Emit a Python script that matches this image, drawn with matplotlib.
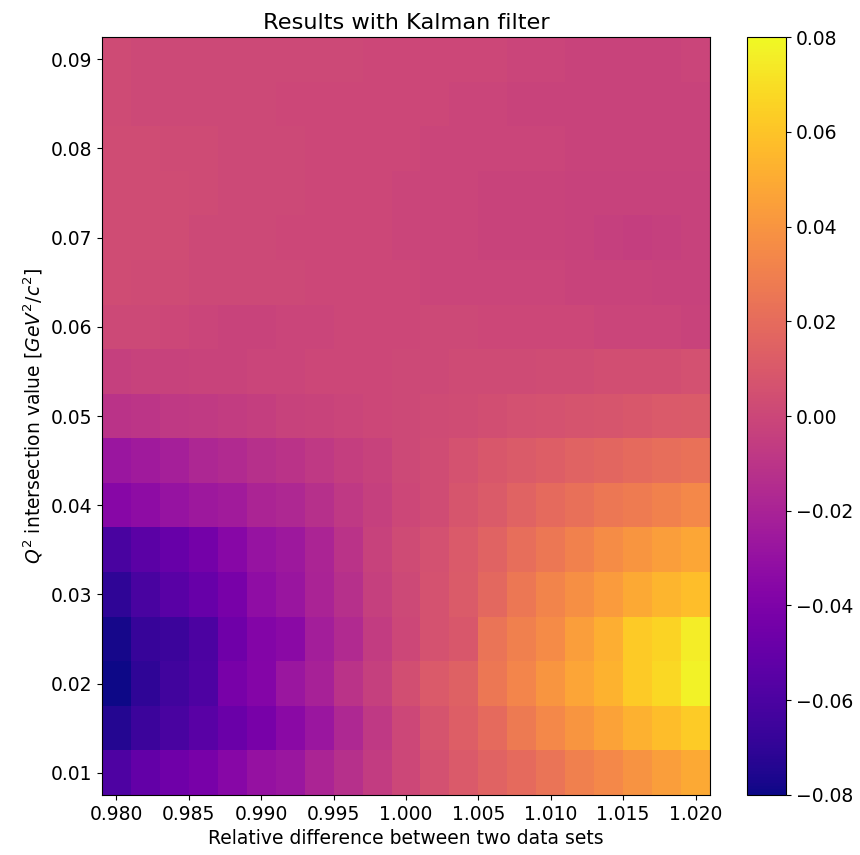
import numpy as np
import matplotlib
matplotlib.use("Agg")
from matplotlib import pyplot as plt

# relative difference (column centres) and Q^2 (row centres)
rel_diff = [0.980, 0.982, 0.984, 0.986, 0.988, 0.990, 0.992, 0.994, 0.996, 0.998,
            1.000, 1.002, 1.004, 1.006, 1.008, 1.010, 1.012, 1.014, 1.016, 1.018, 1.020]
q2_values = [0.010, 0.015, 0.020, 0.025, 0.030, 0.035, 0.040, 0.045, 0.050,
             0.055, 0.060, 0.065, 0.070, 0.075, 0.080, 0.085, 0.090]

# one list per Q^2 row
row_010 = [-0.059, -0.051, -0.046, -0.042, -0.036, -0.030, -0.027, -0.019, -0.013, -0.006,
           0.000, 0.005, 0.010, 0.015, 0.019, 0.024, 0.030, 0.034, 0.039, 0.044, 0.049]
row_015 = [-0.074, -0.066, -0.061, -0.055, -0.048, -0.042, -0.035, -0.027, -0.017, -0.008,
           0.000, 0.007, 0.013, 0.019, 0.027, 0.034, 0.040, 0.046, 0.052, 0.057, 0.063]
row_020 = [-0.080, -0.070, -0.064, -0.059, -0.042, -0.037, -0.027, -0.021, -0.011, -0.004,
           0.004, 0.010, 0.014, 0.026, 0.033, 0.040, 0.047, 0.053, 0.062, 0.068, 0.077]
row_025 = [-0.078, -0.068, -0.066, -0.060, -0.046, -0.038, -0.035, -0.023, -0.016, -0.006,
           0.000, 0.006, 0.009, 0.024, 0.030, 0.035, 0.044, 0.051, 0.062, 0.066, 0.075]
row_030 = [-0.070, -0.061, -0.055, -0.049, -0.042, -0.032, -0.028, -0.020, -0.013, -0.004,
           0.001, 0.006, 0.011, 0.018, 0.026, 0.032, 0.037, 0.043, 0.049, 0.054, 0.058]
row_035 = [-0.061, -0.054, -0.049, -0.044, -0.036, -0.029, -0.026, -0.019, -0.011, -0.003,
           0.002, 0.005, 0.010, 0.015, 0.021, 0.026, 0.031, 0.036, 0.040, 0.044, 0.048]
row_040 = [-0.036, -0.033, -0.029, -0.026, -0.024, -0.019, -0.017, -0.013, -0.008, -0.004,
           0.000, 0.003, 0.008, 0.011, 0.015, 0.019, 0.022, 0.026, 0.028, 0.031, 0.034]
row_045 = [-0.027, -0.025, -0.022, -0.018, -0.016, -0.013, -0.011, -0.008, -0.005, -0.003,
           0.001, 0.003, 0.006, 0.009, 0.011, 0.013, 0.015, 0.017, 0.019, 0.021, 0.023]
row_050 = [-0.011, -0.010, -0.008, -0.007, -0.006, -0.005, -0.003, -0.002, -0.001, 0.000,
           0.001, 0.002, 0.003, 0.004, 0.005, 0.006, 0.007, 0.008, 0.009, 0.010, 0.011]
row_055 = [-0.004, -0.003, -0.003, -0.002, -0.002, -0.001, -0.001, 0.000, 0.000, 0.000,
           0.001, 0.001, 0.002, 0.002, 0.002, 0.003, 0.003, 0.004, 0.004, 0.004, 0.005]
row_060 = [0.001, 0.001, 0.000, -0.001, -0.002, -0.002, -0.001, -0.001, 0.000, 0.000,
           0.000, 0.001, 0.001, 0.000, 0.000, 0.000, 0.000, -0.001, -0.001, -0.001, -0.002]
row_065 = [0.003, 0.002, 0.002, 0.001, 0.001, 0.001, 0.001, 0.000, 0.000, 0.000,
           0.000, -0.001, -0.001, -0.001, -0.001, -0.001, -0.002, -0.002, -0.002, -0.003, -0.003]
row_070 = [0.003, 0.003, 0.003, 0.001, 0.001, 0.001, 0.000, 0.000, 0.000, 0.000,
           -0.001, -0.001, -0.001, -0.002, -0.002, -0.002, -0.003, -0.004, -0.005, -0.004, -0.003]
row_075 = [0.003, 0.003, 0.003, 0.002, 0.001, 0.001, 0.001, 0.000, 0.000, 0.000,
           -0.001, -0.001, -0.001, -0.002, -0.002, -0.002, -0.003, -0.003, -0.003, -0.003, -0.003]
row_080 = [0.003, 0.003, 0.002, 0.002, 0.001, 0.001, 0.001, 0.000, 0.000, 0.000,
           0.000, -0.001, -0.001, -0.001, -0.001, -0.001, -0.002, -0.002, -0.002, -0.002, -0.002]
row_085 = [0.002, 0.001, 0.001, 0.001, 0.001, 0.001, 0.000, 0.000, 0.000, 0.000,
           0.000, 0.000, -0.001, -0.001, -0.002, -0.002, -0.002, -0.002, -0.002, -0.002, -0.002]
row_090 = [0.002, 0.001, 0.001, 0.001, 0.001, 0.001, 0.001, 0.001, 0.001, 0.000,
           0.000, 0.000, 0.000, 0.000, -0.001, -0.001, -0.002, -0.002, -0.002, -0.002, -0.001]

z = np.array([row_010, row_015, row_020, row_025, row_030, row_035, row_040, row_045, row_050,
              row_055, row_060, row_065, row_070, row_075, row_080, row_085, row_090])

FONT = 13.5

fig = plt.figure(figsize=(8.6, 8.55), dpi=100)
ax = fig.add_axes([0.1186, 0.0702, 0.7070, 0.8865])
cax = fig.add_axes([0.8686, 0.0702, 0.0454, 0.8865])

mesh = ax.pcolormesh(rel_diff, q2_values, z, shading="nearest",
                     cmap="plasma", vmin=-0.08, vmax=0.08)

ax.set_xticks(np.arange(0.980, 1.0201, 0.005))
ax.set_xticklabels(["%.3f" % t for t in np.arange(0.980, 1.0201, 0.005)])
ax.set_yticks(np.arange(0.01, 0.0901, 0.01))
ax.set_yticklabels(["%.2f" % t for t in np.arange(0.01, 0.0901, 0.01)])
ax.tick_params(labelsize=FONT)

ax.set_xlabel("Relative difference between two data sets", fontsize=FONT)
ax.set_ylabel(r"$Q^2$ intersection value [$GeV^2/c^2$]", fontsize=FONT)
ax.set_title("Results with Kalman filter", fontsize=FONT * 1.2)

cb = fig.colorbar(mesh, cax=cax)
cb.set_ticks(np.arange(-0.08, 0.0801, 0.02))
cb.ax.tick_params(labelsize=FONT)

fig.savefig("out.png", dpi=100)
